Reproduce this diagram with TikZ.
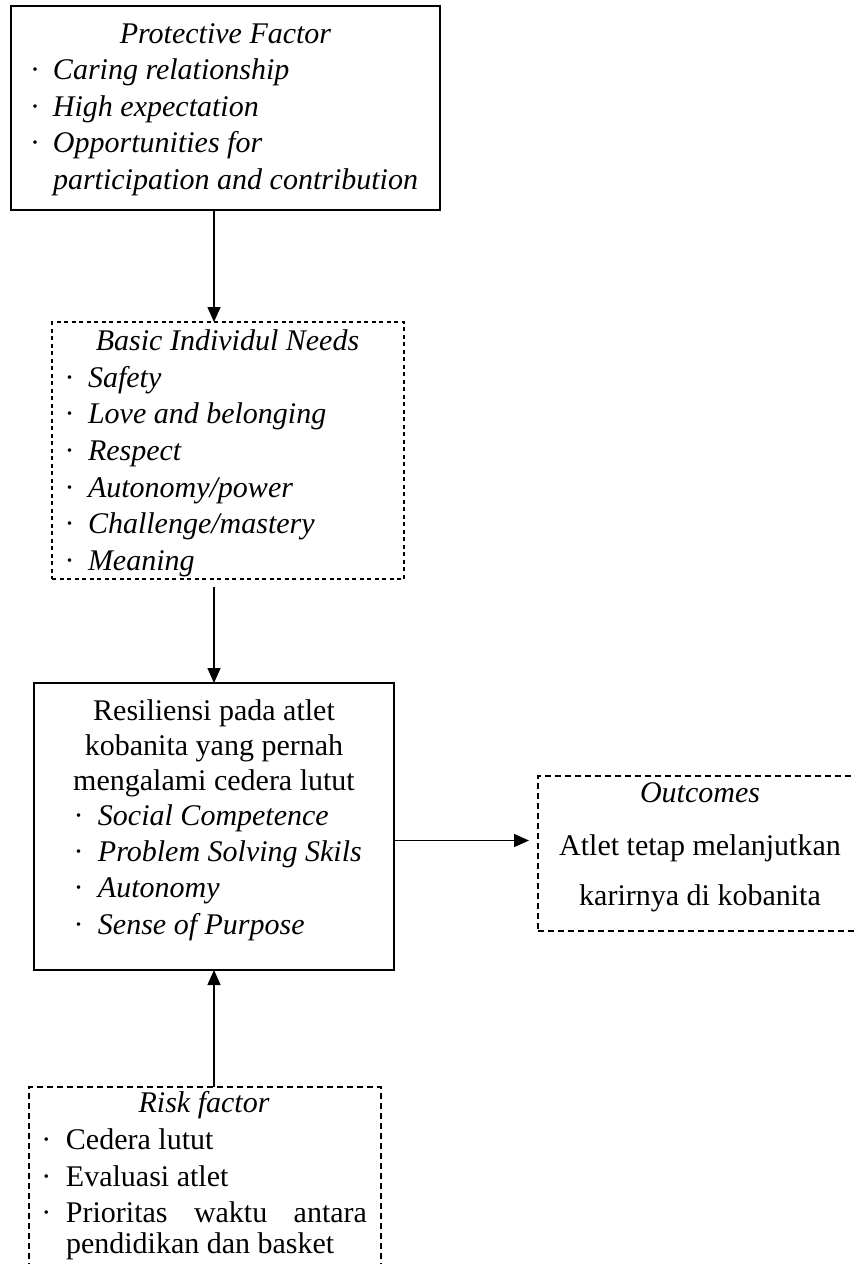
\documentclass[tikz,border=0pt]{standalone}
\usepackage{fontspec}
\setmainfont{Liberation Serif}
\usetikzlibrary{arrows.meta}
\newcommand{\bul}[1]{\makebox[#1][l]{\upshape ·}}
\begin{document}
\begin{tikzpicture}[x=1pt,y=-1pt,
  every node/.style={inner sep=0pt,outer sep=0pt},
  solidbox/.style={draw,line width=1.6pt,anchor=north west},
  dashbox/.style={draw,line width=1.6pt,anchor=north west,dash pattern=on 6pt off 4pt},
  dotbox/.style={draw,line width=1.6pt,anchor=north west,dash pattern=on 4pt off 3.5pt},
  txt/.style={font=\fontsize{30}{36}\selectfont,anchor=base west},
  ctxt/.style={font=\fontsize{30}{36}\selectfont,anchor=base},
  arr/.style={line width=1.5pt,-{Triangle[length=15pt,width=13pt]}}]
\fill[white] (0,0) rectangle (854,1264);
\useasboundingbox (0,0) rectangle (854,1264);

% boxes
\node[solidbox,minimum width=429pt,minimum height=204pt] (prot) at (11,6) {};
\node[dotbox,minimum width=352pt,minimum height=257pt] (basic) at (52,322) {};
\node[solidbox,minimum width=360pt,minimum height=287pt] (res) at (34,683) {};
\node[dashbox,minimum width=324pt,minimum height=155pt] (out) at (538,776) {};
\node[dashbox,minimum width=352pt,minimum height=200pt] (risk) at (29,1087) {};

% protective factor
\node[ctxt] (p0) at (225.5,43) {\itshape Protective Factor};
\node[txt] (p1) at (30,79.5) {\bul{23pt}\itshape Caring relationship};
\node[txt] (p2) at (30,116) {\bul{23pt}\itshape High expectation};
\node[txt] (p3) at (30,152.5) {\bul{23pt}\itshape Opportunities for};
\node[txt] (p4) at (53,189) {\itshape participation and contribution};

% basic needs
\node[ctxt] (b0) at (227.5,350) {\itshape Basic Individul Needs};
\node[txt] (b1) at (64.5,387) {\bul{23.5pt}\itshape Safety};
\node[txt] (b2) at (64.5,423.5) {\bul{23.5pt}\itshape Love and belonging};
\node[txt] (b3) at (64.5,460) {\bul{23.5pt}\itshape Respect};
\node[txt] (b4) at (64.5,497) {\bul{23.5pt}\itshape Autonomy/power};
\node[txt] (b5) at (64.5,533.5) {\bul{23.5pt}\itshape Challenge/mastery};
\node[txt] (b6) at (64.5,570) {\bul{23.5pt}\itshape Meaning};

% resilience
\node[ctxt] (r0) at (214,720) {Resiliensi pada atlet};
\node[ctxt] (r1) at (214,755) {kobanita yang pernah};
\node[ctxt] (r2) at (214,790) {mengalami cedera lutut};
\node[txt] (r3) at (73.5,825) {\bul{24.5pt}\itshape Social Competence};
\node[txt] (r4) at (73.5,861) {\bul{24.5pt}\itshape Problem Solving Skils};
\node[txt] (r5) at (73.5,897) {\bul{24.5pt}\itshape Autonomy};
\node[txt] (r6) at (73.5,934) {\bul{24.5pt}\itshape Sense of Purpose};

% outcomes
\node[ctxt] (o0) at (700,802) {\itshape Outcomes};
\node[ctxt] (o1) at (700,855) {Atlet tetap melanjutkan};
\node[ctxt] (o2) at (700,905) {karirnya di kobanita};

% risk factor
\node[ctxt] (k0) at (204,1112) {\itshape Risk factor};
\node[txt] (k1) at (41.5,1149) {\bul{24.5pt}Cedera lutut};
\node[txt] (k2) at (41.5,1186) {\bul{24.5pt}Evaluasi atlet};
\node[txt] (k3) at (41.5,1222) {\bul{24.5pt}\makebox[301pt][l]{Prioritas\hfill waktu\hfill antara}};
\node[txt] (k4) at (66,1253) {pendidikan dan basket};

% connectors
\draw[arr] (prot.south -| res.north) -- (basic.north -| res.north);
\draw[arr] ([yshift=-8pt]basic.south -| res.north) -- (res.north);
\draw[arr,shorten >=9pt] ([yshift=-14pt]res.east) -- ([yshift=-14pt]res.east -| out.west);
\draw[arr] (risk.north -| res.north) -- (res.south);
\end{tikzpicture}
\end{document}
